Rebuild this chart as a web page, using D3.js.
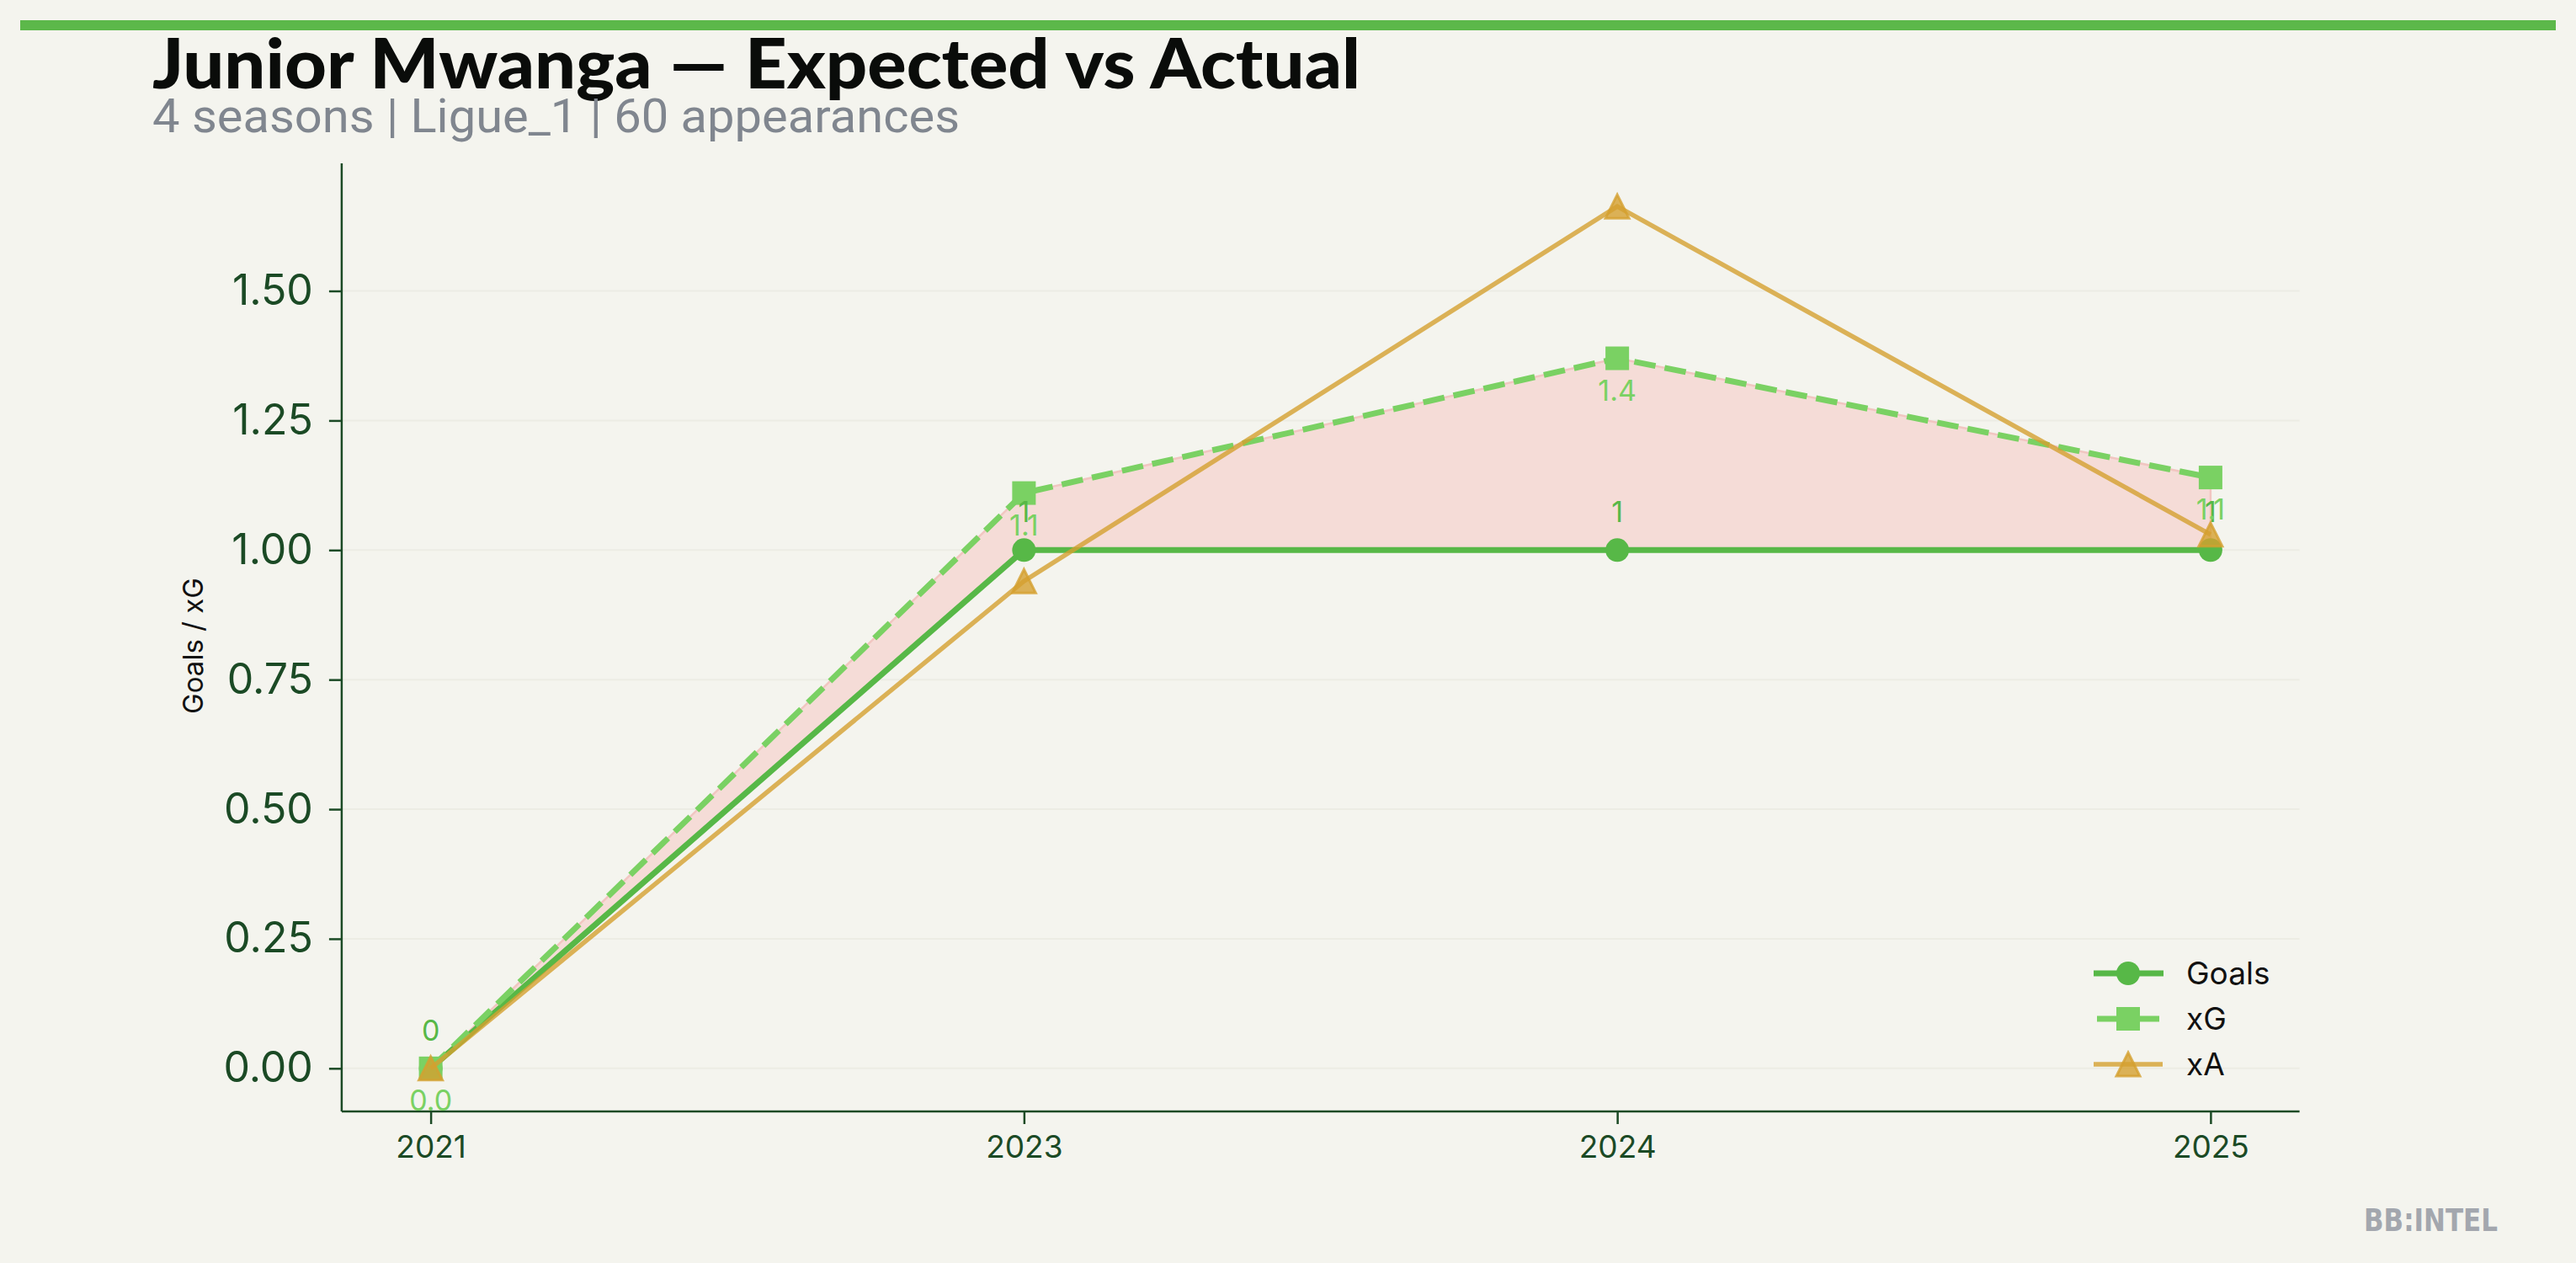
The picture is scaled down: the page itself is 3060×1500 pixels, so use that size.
<!DOCTYPE html>
<html>
<head>
<meta charset="utf-8">
<script src="https://cdn.jsdelivr.net/npm/d3@7"></script>
<style>
  html, body { margin: 0; padding: 0; background: #f4f4ee; }
  svg { display: block; }
</style>
</head>
<body>
<svg id="chart" width="3060" height="1500"></svg>
<script>
// ---- data ----
const seasons = ["2021", "2023", "2024", "2025"];
const goals = [0, 1, 1, 1];
const xg = [0, 1.11, 1.37, 1.14];
const xa = [0, 0.94, 1.663, 1.03];
const yTicks = [0, 0.25, 0.5, 0.75, 1.0, 1.25, 1.5];
const seriesNames = ["Goals", "xG", "xA"];
const titleText = "Junior Mwanga \u2014 Expected vs Actual";
const subtitleText = "4 seasons | Ligue_1 | 60 appearances";
const yLabelText = "Goals / xG";
const brandText = "BB:INTEL";

// ---- styles ----
const C = {
  bg: "#f4f4ee", bar: "#5cb84a", goals: "#57b847", xg: "#7ad163", xa: "#d4a030",
  axis: "#1b4a25", sub: "#80868f", fill: "#f5dcd7", fillEdge: "#f1c6c1", grid: "#ecece4", brand: "#a3a7ae"
};
const svg = d3.select("#chart");
svg.append("rect").attr("width", 3060).attr("height", 1500).attr("fill", C.bg);
svg.append("rect").attr("x", 24).attr("y", 24).attr("width", 3012).attr("height", 12).attr("fill", C.bar);

const L = 405.9, R = 2731.6, T = 194, B = 1320;
const ymax = d3.max(xa.concat(xg, goals));
const x = d3.scalePoint().domain(seasons).range([L, R]).padding(0.15);
const y = d3.scaleLinear().domain([-0.05 * ymax, 1.05 * ymax]).range([B, T]);

// grid
svg.append("g").selectAll("line").data(yTicks).join("line")
  .attr("x1", L).attr("x2", R).attr("y1", d => y(d)).attr("y2", d => y(d))
  .attr("stroke", C.grid).attr("stroke-width", 2);

// axes
const yAxis = d3.axisLeft(y).tickValues(yTicks).tickFormat(d3.format(".2f")).tickSize(15).tickPadding(19);
const gy = svg.append("g").attr("transform", `translate(${L},0)`).call(yAxis);
gy.select(".domain").attr("d", `M0,${T}V${B}`).attr("stroke", C.axis).attr("stroke-width", 2.5);
gy.selectAll(".tick line").attr("stroke", C.axis).attr("stroke-width", 2.5);
gy.selectAll(".tick text").attr("fill", C.axis).attr("font-family", "Inter").attr("font-size", 50);

const xAxis = d3.axisBottom(x).tickSize(15).tickPadding(14);
const gx = svg.append("g").attr("transform", `translate(0,${B})`).call(xAxis);
gx.select(".domain").attr("d", `M${L},0H${R}`).attr("stroke", C.axis).attr("stroke-width", 2.5);
gx.selectAll(".tick line").attr("stroke", C.axis).attr("stroke-width", 2.5);
gx.selectAll(".tick text").attr("fill", C.axis).attr("font-family", "Inter").attr("font-size", 37);

// y label
svg.append("text").attr("transform", `translate(241,767) rotate(-90)`)
  .attr("text-anchor", "middle").attr("font-family", "Inter").attr("font-size", 33)
  .attr("fill", "#111").text(yLabelText);

// fill between goals and xG
const idx = d3.range(seasons.length);
const area = d3.area().x(i => x(seasons[i])).y0(i => y(goals[i])).y1(i => y(xg[i]));
svg.append("path").datum(idx).attr("d", area)
  .attr("fill", C.fill).attr("stroke", C.fillEdge).attr("stroke-width", 2.5);

const line = vals => d3.line().x(i => x(seasons[i])).y(i => y(vals[i]));

// Goals
svg.append("path").datum(idx).attr("d", line(goals)).attr("fill", "none")
  .attr("stroke", C.goals).attr("stroke-width", 7);
svg.append("g").selectAll("circle").data(idx).join("circle")
  .attr("cx", i => x(seasons[i])).attr("cy", i => y(goals[i])).attr("r", 14).attr("fill", C.goals);

// xG
svg.append("path").datum(idx).attr("d", line(xg)).attr("fill", "none")
  .attr("stroke", C.xg).attr("stroke-width", 7).attr("stroke-dasharray", "25.7,11");
svg.append("g").selectAll("rect").data(idx).join("rect")
  .attr("x", i => x(seasons[i]) - 14).attr("y", i => y(xg[i]) - 14)
  .attr("width", 28).attr("height", 28).attr("fill", C.xg);

// xA
function triPath(cx, cy, s) {
  const h = s / 2;
  return `M${cx},${cy - h}L${cx + h},${cy + h}L${cx - h},${cy + h}Z`;
}
svg.append("path").datum(idx).attr("d", line(xa)).attr("fill", "none")
  .attr("stroke", C.xa).attr("stroke-opacity", 0.8).attr("stroke-width", 5.5);
svg.append("g").selectAll("path").data(idx).join("path")
  .attr("d", i => triPath(x(seasons[i]), y(xa[i]), 28))
  .attr("fill", C.xa).attr("fill-opacity", 0.8)
  .attr("stroke", C.xa).attr("stroke-opacity", 0.8).attr("stroke-width", 3);

// value labels
const fmtG = d3.format("d"), fmtX = d3.format(".1f");
svg.append("g").selectAll("text").data(idx).join("text")
  .attr("x", i => x(seasons[i])).attr("y", i => y(goals[i]) - 33)
  .attr("text-anchor", "middle").attr("font-family", "Inter").attr("font-size", 34)
  .attr("fill", C.goals).text(i => fmtG(goals[i]));
svg.append("g").selectAll("text").data(idx).join("text")
  .attr("x", i => x(seasons[i])).attr("y", i => y(xg[i]) + 50)
  .attr("text-anchor", "middle").attr("font-family", "Inter").attr("font-size", 34)
  .attr("fill", C.xg).text(i => fmtX(xg[i]));

// legend
const legY = [1156, 1210, 1264];
const lg = svg.append("g");
seriesNames.forEach((name, k) => {
  const yy = legY[k];
  if (k === 0) {
    lg.append("line").attr("x1", 2487).attr("x2", 2570).attr("y1", yy).attr("y2", yy).attr("stroke", C.goals).attr("stroke-width", 7);
    lg.append("circle").attr("cx", 2528).attr("cy", yy).attr("r", 14).attr("fill", C.goals);
  } else if (k === 1) {
    lg.append("line").attr("x1", 2491).attr("x2", 2565).attr("y1", yy).attr("y2", yy).attr("stroke", C.xg).attr("stroke-width", 7);
    lg.append("rect").attr("x", 2514).attr("y", yy - 14).attr("width", 28).attr("height", 28).attr("fill", C.xg);
  } else {
    lg.append("line").attr("x1", 2487).attr("x2", 2569).attr("y1", yy).attr("y2", yy).attr("stroke", C.xa).attr("stroke-opacity", 0.8).attr("stroke-width", 5.5);
    lg.append("path").attr("d", triPath(2528, yy, 28)).attr("fill", C.xa).attr("fill-opacity", 0.8)
      .attr("stroke", C.xa).attr("stroke-opacity", 0.8).attr("stroke-width", 3);
  }
  lg.append("text").attr("x", 2597).attr("y", yy).attr("dy", "0.35em")
    .attr("font-family", "Inter").attr("font-size", 37).attr("fill", "#111").text(name);
});

// titles
svg.append("text").attr("x", 181).attr("y", 105)
  .attr("font-family", "Lato").attr("font-weight", 900).attr("font-size", 82)
  .attr("fill", "#0a0c0a").attr("textLength", 1435).attr("lengthAdjust", "spacingAndGlyphs").text(titleText);
svg.append("text").attr("x", 181).attr("y", 157)
  .attr("font-family", "Roboto").attr("font-size", 56)
  .attr("fill", C.sub).attr("textLength", 959).attr("lengthAdjust", "spacingAndGlyphs").text(subtitleText);

// brand
svg.append("text").attr("x", 2808).attr("y", 1462)
  .attr("font-family", "DejaVu Sans Condensed, Liberation Sans Narrow, DejaVu Sans").attr("font-weight", "bold")
  .attr("font-size", 38).attr("fill", C.brand)
  .attr("textLength", 159).attr("lengthAdjust", "spacingAndGlyphs").text(brandText);
</script>
</body>
</html>
